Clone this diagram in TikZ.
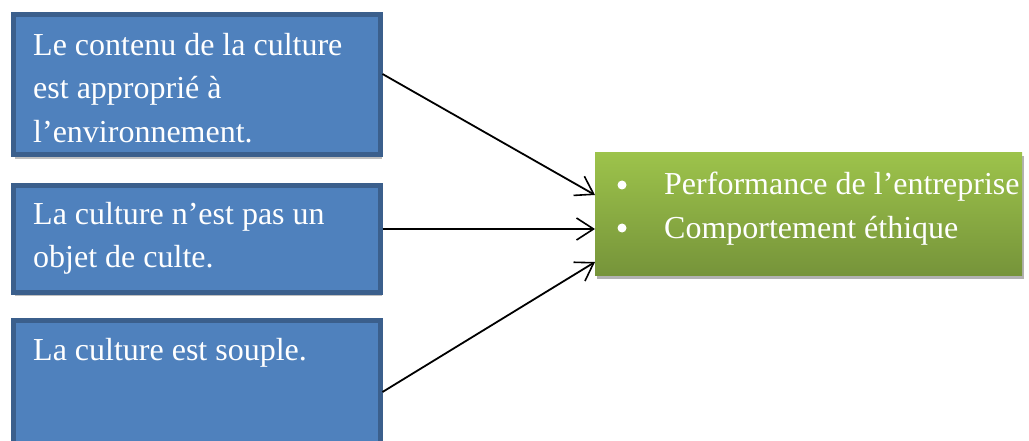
\documentclass[tikz,border=0pt]{standalone}
\usepackage{fontspec}
\setmainfont{Liberation Serif}
\usetikzlibrary{arrows.meta,shadows}
\definecolor{boxfill}{HTML}{4F81BD}
\definecolor{boxline}{HTML}{3B5F8C}
\definecolor{greentop}{HTML}{9DC34B}
\definecolor{greenbot}{HTML}{76943A}
\begin{document}
\begin{tikzpicture}[x=1pt,y=-1pt,
  bluebox/.style={draw=boxline, line width=5pt, fill=boxfill, rectangle, inner sep=0pt, anchor=north west,
    drop shadow={shadow xshift=2pt, shadow yshift=-4pt, opacity=0.25, fill=black}},
  greenbox/.style={rectangle, inner sep=0pt, anchor=north west, top color=greentop, bottom color=greenbot,
    drop shadow={shadow xshift=2pt, shadow yshift=-4pt, opacity=0.3, fill=black}},
  txt/.style={text=white, inner sep=0pt, anchor=north west, align=left,
    font=\fontsize{32}{43.5}\selectfont},
  dot/.style={circle, fill=white, inner sep=0pt, minimum size=9pt},
  conn/.style={line width=1.8pt, -{Straight Barb[length=17pt,width=22pt,line width=1.6pt]}}]
\useasboundingbox (0,0) rectangle (1029,441);
% blue boxes
\node[bluebox, minimum width=367pt, minimum height=140pt] (b1) at (10.5,12.5) {};
\node[bluebox, minimum width=367pt, minimum height=106pt] (b2) at (10.5,183.5) {};
\node[bluebox, minimum width=367pt, minimum height=140pt] (b3) at (10.5,317.5) {};
% green box
\node[greenbox, minimum width=427pt, minimum height=123pt] (g) at (595,152) {};
% texts
\node[txt] (t1) at (33,33) {Le contenu de la culture\\est approprié à\\l’environnement.};
\node[txt] (t2) at (33,202) {La culture n’est pas un\\objet de culte.};
\node[txt] (t3) at (33,338) {La culture est souple.};
\node[txt] (g1) at (664,172) {Performance de l’entreprise\\Comportement éthique};
\node[dot] (d1) at (622,185) {};
\node[dot] (d2) at (622,228) {};
% connectors
\coordinate (s1) at (b1.east |- 0,74);
\coordinate (s2) at (b2.east |- 0,229);
\coordinate (s3) at (b3.east |- 0,392);
\coordinate (e1) at (g.west |- 0,195);
\coordinate (e2) at (g.west |- 0,229);
\coordinate (e3) at (g.west |- 0,262);
\draw[conn] (s1) -- (e1);
\draw[conn] (s2) -- (e2);
\draw[conn] (s3) -- (e3);
\end{tikzpicture}
\end{document}
